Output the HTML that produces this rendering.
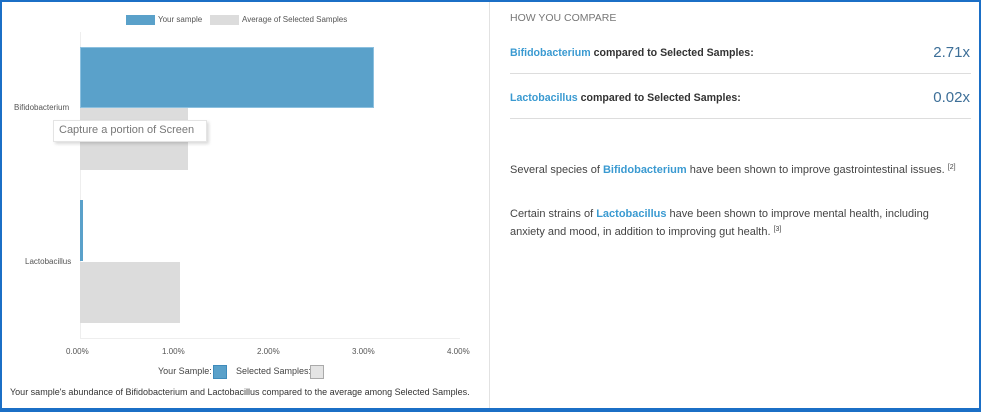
<!DOCTYPE html>
<html><head><meta charset="utf-8"><style>
*{margin:0;padding:0;box-sizing:border-box}
body{width:981px;height:412px;background:#fff;font-family:"Liberation Sans",sans-serif;overflow:hidden;position:relative}
.a{position:absolute;white-space:nowrap}
.s{font-size:8px;color:#555}
.r{font-size:11px;color:#444}
.b{color:#3a9ad1}
sup{font-size:7px;line-height:0;vertical-align:4px}
</style></head><body>
<div class="a" style="left:0;top:0;width:981px;height:412px;border:2px solid #1b6fc6;border-bottom-width:4px"></div>
<div class="a" style="left:489px;top:2px;width:1px;height:406px;background:#e2e2e2"></div>
<!-- legend -->
<div class="a" style="left:126px;top:15px;width:29px;height:10px;background:#5aa1ca"></div>
<div class="a s" style="left:158px;top:15px">Your sample</div>
<div class="a" style="left:210px;top:15px;width:29px;height:10px;background:#dcdcdc"></div>
<div class="a s" style="left:242px;top:15px">Average of Selected Samples</div>
<!-- axes -->
<div class="a" style="left:80px;top:32px;width:1px;height:306px;background:#eee"></div>
<div class="a" style="left:80px;top:338px;width:380px;height:1px;background:#eee"></div>
<div class="a" style="left:80px;top:47px;width:294px;height:61px;background:#5aa1ca;border:1px solid #8cc0df"></div>
<div class="a" style="left:80px;top:108px;width:108px;height:62px;background:#dcdcdc"></div>
<div class="a" style="left:80px;top:200px;width:3px;height:61px;background:#5aa1ca"></div>
<div class="a" style="left:80px;top:262px;width:100px;height:61px;background:#dcdcdc"></div>
<div class="a s" style="left:14px;top:103px">Bifidobacterium</div>
<div class="a s" style="left:25px;top:257px">Lactobacillus</div>
<div class="a" style="left:53px;top:120px;width:154px;height:22px;background:#fff;border:1px solid #e4e4e4;box-shadow:2px 2px 3px rgba(0,0,0,.15);font-size:11px;color:#777;padding:3px 0 0 5px">Capture a portion of Screen</div>
<div class="a s" style="left:66px;top:347px">0.00%</div>
<div class="a s" style="left:162px;top:347px">1.00%</div>
<div class="a s" style="left:257px;top:347px">2.00%</div>
<div class="a s" style="left:352px;top:347px">3.00%</div>
<div class="a s" style="left:447px;top:347px">4.00%</div>
<div class="a" style="left:158px;top:366px;font-size:9px;color:#444">Your Sample:</div>
<div class="a" style="left:213px;top:365px;width:14px;height:14px;background:#5aa1ca;border:1px solid #3f8bbb"></div>
<div class="a" style="left:236px;top:366px;font-size:9px;color:#444">Selected Samples:</div>
<div class="a" style="left:310px;top:365px;width:14px;height:14px;background:#e4e4e4;border:1px solid #aaa"></div>
<div class="a" style="left:10px;top:387px;font-size:9px;color:#333">Your sample's abundance of Bifidobacterium and Lactobacillus compared to the average among Selected Samples.</div>
<!-- right -->
<div class="a" style="left:510px;top:12px;font-size:10.5px;color:#777">HOW YOU COMPARE</div>
<div class="a" style="left:510px;top:47px;font-size:10.6px;font-weight:bold;color:#333"><span class="b">Bifidobacterium</span> compared to Selected Samples:</div>
<div class="a" style="right:11px;top:44px;font-size:15px;color:#3d6f98">2.71x</div>
<div class="a" style="left:510px;top:73px;width:461px;height:1px;background:#ddd"></div>
<div class="a" style="left:510px;top:92px;font-size:10.6px;font-weight:bold;color:#333"><span class="b">Lactobacillus</span> compared to Selected Samples:</div>
<div class="a" style="right:11px;top:89px;font-size:15px;color:#3d6f98">0.02x</div>
<div class="a" style="left:510px;top:118px;width:461px;height:1px;background:#ddd"></div>
<div class="a r" style="left:510px;top:164px">Several species of <b class="b">Bifidobacterium</b> have been shown to improve gastrointestinal issues. <sup>[2]</sup></div>
<div class="a r" style="left:510px;top:205px;line-height:18px">Certain strains of <b class="b">Lactobacillus</b> have been shown to improve mental health, including<br>anxiety and mood, in addition to improving gut health. <sup>[3]</sup></div>
</body></html>
